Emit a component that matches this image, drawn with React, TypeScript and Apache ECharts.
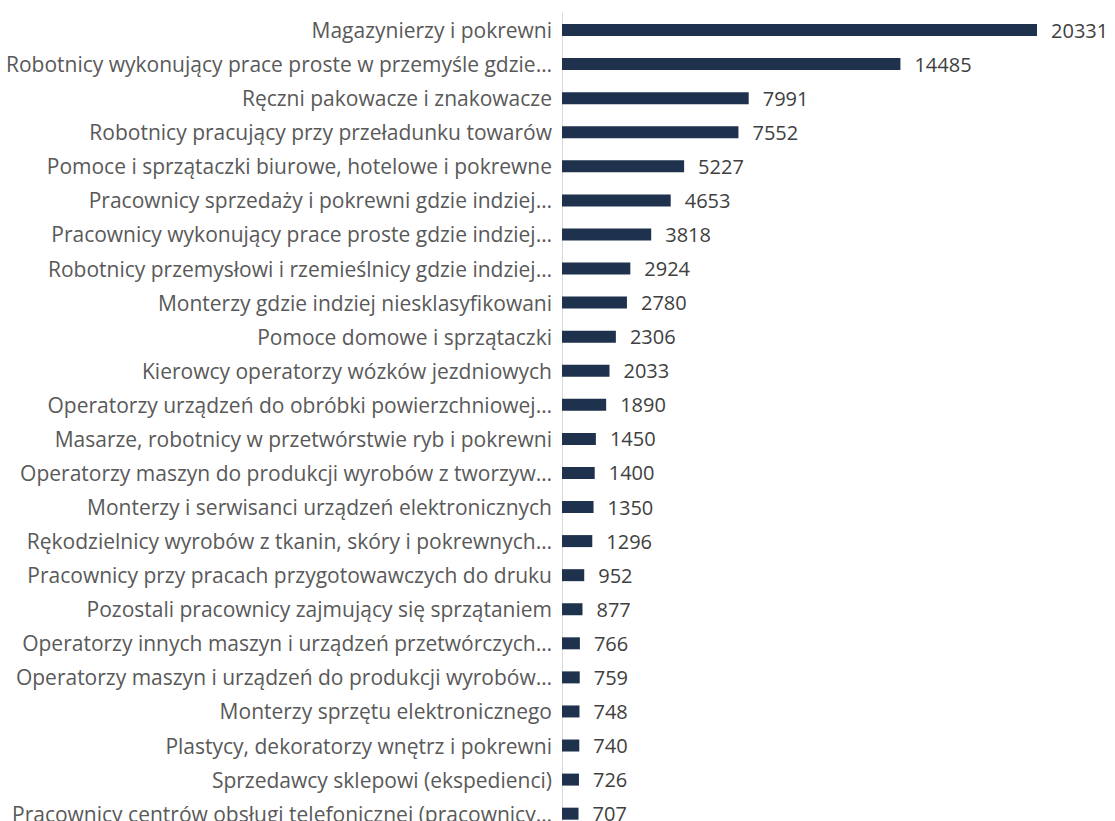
import React, { useEffect, useRef } from "react";
import * as echarts from "echarts";

const categories: string[] = [
  "Magazynierzy i pokrewni",
  "Robotnicy wykonujący prace proste w przemyśle gdzie…",
  "Ręczni pakowacze i znakowacze",
  "Robotnicy pracujący przy przeładunku towarów",
  "Pomoce i sprzątaczki biurowe, hotelowe i pokrewne",
  "Pracownicy sprzedaży i pokrewni gdzie indziej…",
  "Pracownicy wykonujący prace proste gdzie indziej…",
  "Robotnicy przemysłowi i rzemieślnicy gdzie indziej…",
  "Monterzy gdzie indziej niesklasyfikowani",
  "Pomoce domowe i sprzątaczki",
  "Kierowcy operatorzy wózków jezdniowych",
  "Operatorzy urządzeń do obróbki powierzchniowej…",
  "Masarze, robotnicy w przetwórstwie ryb i pokrewni",
  "Operatorzy maszyn do produkcji wyrobów z tworzyw…",
  "Monterzy i serwisanci urządzeń elektronicznych",
  "Rękodzielnicy wyrobów z tkanin, skóry i pokrewnych…",
  "Pracownicy przy pracach przygotowawczych do druku",
  "Pozostali pracownicy zajmujący się sprzątaniem",
  "Operatorzy innych maszyn i urządzeń przetwórczych…",
  "Operatorzy maszyn i urządzeń do produkcji wyrobów…",
  "Monterzy sprzętu elektronicznego",
  "Plastycy, dekoratorzy wnętrz i pokrewni",
  "Sprzedawcy sklepowi (ekspedienci)",
  "Pracownicy centrów obsługi telefonicznej (pracownicy…",
];

const values: number[] = [
  20331, 14485, 7991, 7552, 5227, 4653, 3818, 2924, 2780, 2306, 2033, 1890,
  1450, 1400, 1350, 1296, 952, 877, 766, 759, 748, 740, 726, 707,
];

export default function App() {
  const ref = useRef<HTMLDivElement>(null);
  useEffect(() => {
    if (!ref.current) return;
    const chart = echarts.init(ref.current, undefined, { renderer: "svg" });
    chart.setOption({
      animation: false,
      grid: {
        left: 562,
        top: 13,
        width: 514,
        height: 817.7,
        containLabel: false,
        outerBoundsMode: "none",
      },
      xAxis: {
        type: "value",
        min: 0,
        max: 22000,
        show: false,
      },
      yAxis: {
        type: "category",
        data: categories,
        inverse: true,
        axisLine: { show: true, lineStyle: { color: "#d9d9d9", width: 1 } },
        axisTick: { show: false },
        axisLabel: {
          color: "#595959",
          fontFamily: "Open Sans",
          fontSize: 21,
          margin: 10,
        },
      },
      series: [
        {
          type: "bar",
          data: values,
          barWidth: 12,
          itemStyle: { color: "#1f324d" },
          label: {
            show: true,
            position: "right",
            distance: 14,
            color: "#404040",
            fontFamily: "Open Sans",
            fontSize: 20,
          },
        },
      ],
    });
    return () => chart.dispose();
  }, []);
  return (
    <div
      style={{
        position: "absolute",
        left: 0,
        top: 0,
        width: 1115,
        height: 821,
        overflow: "hidden",
        background: "#fff",
      }}
    >
      <div ref={ref} style={{ width: 1115, height: 845 }} />
    </div>
  );
}
